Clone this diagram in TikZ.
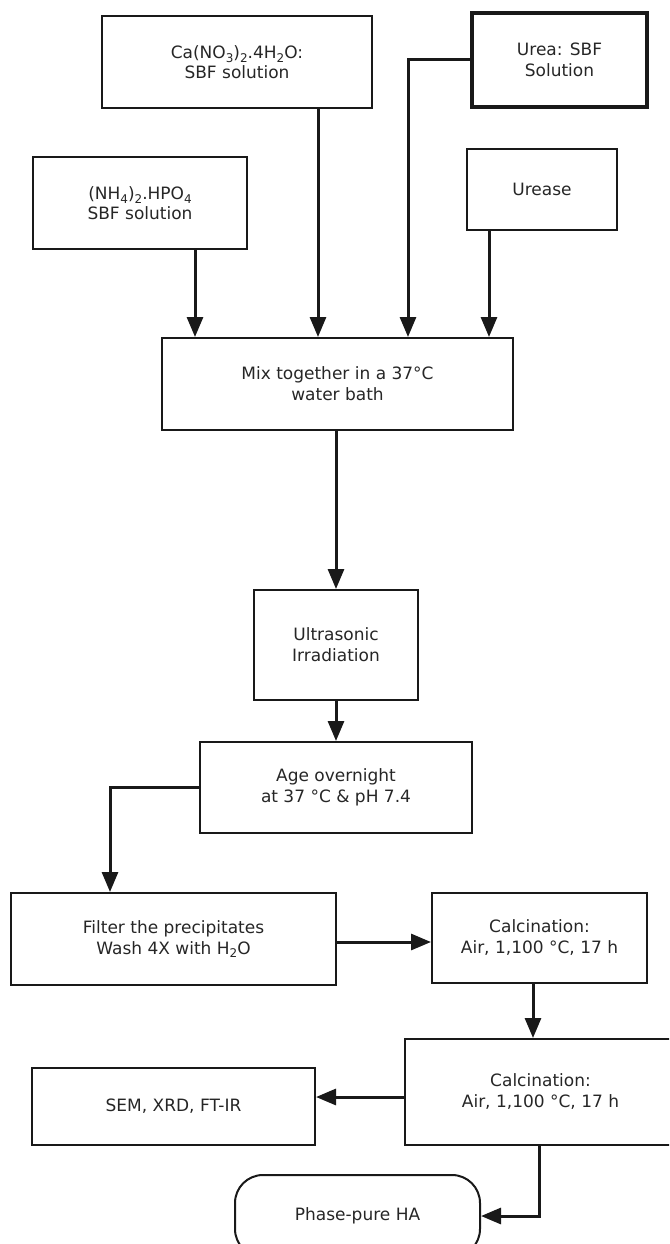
\documentclass[tikz,border=0pt]{standalone}
\usepackage{fontspec}
\setmainfont{DejaVu Sans}
\usetikzlibrary{arrows.meta,calc}
\newcommand{\lsub}[1]{\raisebox{-0.4ex}{\fontsize{12}{12}\selectfont #1}}
\begin{document}
\begin{tikzpicture}[x=1pt,y=-1pt,
  box/.style={draw=black!90, line width=2pt, inner sep=0pt, align=center, text=black!85,
    font=\fontsize{17}{21}\selectfont},
  arr/.style={draw=black!90, line width=3pt, line join=miter, -{Triangle[length=20pt,width=16pt]}}]
\useasboundingbox (0,0) rectangle (669,1244);
\clip (0,0) rectangle (669,1244);
% nodes
\node[box, minimum width=270pt, minimum height=92pt] (ca) at (237,62)
  {Ca(NO\lsub{3})\lsub{2}.4H\lsub{2}O:\\[-1pt]SBF solution};
\node[box, line width=3.5pt, minimum width=175pt, minimum height=94pt] (urea) at (559.5,60)
  {Urea: SBF\\Solution};
\node[box, minimum width=214pt, minimum height=92pt] (nh4) at (140,203)
  {(NH\lsub{4})\lsub{2}.HPO\lsub{4}\\[-1pt]SBF solution};
\node[box, minimum width=150pt, minimum height=81pt] (urease) at (542,189.5) {Urease};
\node[box, minimum width=351pt, minimum height=92pt] (mix) at (337.5,384)
  {Mix together in a 37°C\\water bath};
\node[box, minimum width=164pt, minimum height=110pt] (ultra) at (336,645)
  {Ultrasonic\\Irradiation};
\node[box, minimum width=272pt, minimum height=91pt] (age) at (336,787.5)
  {Age overnight\\at 37 °C \& pH 7.4};
\node[box, minimum width=325pt, minimum height=92pt] (filter) at (173.5,939)
  {Filter the precipitates\\Wash 4X with H\lsub{2}O};
\node[box, minimum width=215pt, minimum height=90pt] (calc1) at (539.5,938)
  {Calcination:\\Air, 1,100 °C, 17 h};
\node[box, minimum width=271pt, minimum height=106pt] (calc2) at (540.5,1092)
  {Calcination:\\Air, 1,100 °C, 17 h};
\node[box, minimum width=283pt, minimum height=77pt] (sem) at (173.5,1106.5)
  {SEM, XRD, FT-IR};
\node[box, rounded corners=28pt, minimum width=245pt, minimum height=82pt] (pure) at (357.5,1216)
  {Phase-pure HA};
% helper coordinates
\coordinate (xa) at (195,0);
\coordinate (xb) at (318,0);
\coordinate (xc) at (408,0);
\coordinate (xd) at (489,0);
\coordinate (xe) at (110,0);
\coordinate (ye) at (0,942);
\coordinate (xf) at (533,0);
\coordinate (yg) at (0,1097);
\coordinate (xh) at (539,0);
% connectors
\draw[arr] (nh4.south -| xa) -- (mix.north -| xa);
\draw[arr] (ca.south -| xb) -- (mix.north -| xb);
\draw[arr] (urea.west) -| (mix.north -| xc);
\draw[arr] (urease.south -| xd) -- (mix.north -| xd);
\draw[arr] (mix.south -| ultra.north) -- (ultra.north);
\draw[arr] (ultra.south) -- (age.north);
\draw[arr] (age.west) -| (filter.north -| xe);
\draw[arr] (filter.east |- ye) -- (calc1.west |- ye);
\draw[arr] (calc1.south -| xf) -- (calc2.north -| xf);
\draw[arr] (calc2.west |- yg) -- (sem.east |- yg);
\draw[arr] (calc2.south -| xh) |- (pure.east);
\end{tikzpicture}
\end{document}
